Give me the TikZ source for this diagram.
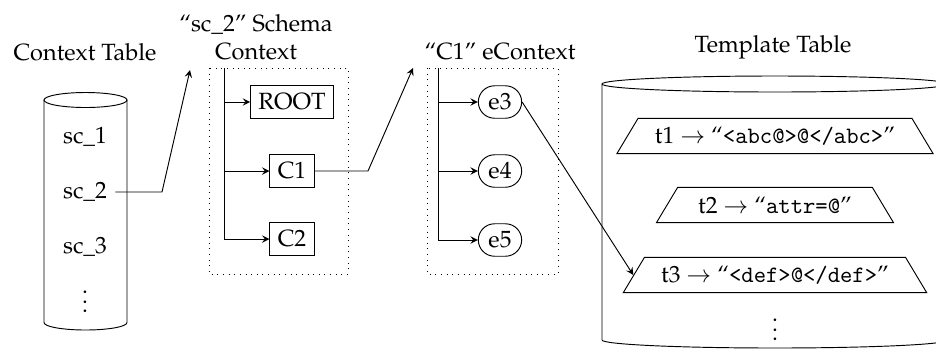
\documentclass[tikz,border=0pt]{standalone}
\usepackage{fontspec}
\newfontfamily\codefont{Latin Modern Mono}
\usepackage[T1]{fontenc}
\usepackage{mathpazo}
\usetikzlibrary{shapes.geometric,shapes.misc,arrows}

\newcommand{\code}[1]{{\codefont #1}}

\tikzset{
  conn/.style={->,>=stealth},
  elbox/.style={draw,rectangle},
  elem/.style={draw,rounded rectangle},
  tpl/.style={draw,trapezium,trapezium angle=59,minimum height=15pt,inner xsep=5pt},
  group/.style={dotted},
}

\begin{document}
\begin{tikzpicture}[x=0.4255pt,y=-0.4255pt]
  \useasboundingbox (0,0) rectangle (936,349);

  % context table cylinder
  \draw (85.5,100) ellipse[x radius=41.5,y radius=7.5];
  \draw (44,100) -- (44,322.5) arc[start angle=180,end angle=0,x radius=41.5,y radius=7.5] -- (127,100);
  \node (ctab) at (85,52) {Context Table};
  \node (sc1) at (85,137) {sc\_1};
  \node (sc2) at (85,192) {sc\_2};
  \node (sc3) at (85,247) {sc\_3};
  \node (scd) at (85,295) {$\vdots$};

  % schema context
  \node[align=center] (schema) at (256,37.5) {``sc\_2'' Schema\\Context};
  \draw[group] (209,68) rectangle (348,274);
  \coordinate (sroot) at (224,68);
  \coordinate (send) at (224,239);
  \draw (sroot) -- (send);
  \node[elbox] (root) at (292,102) {ROOT};
  \node[elbox] (c1) at (292,171) {C1};
  \node[elbox] (c2) at (292,239) {C2};
  \draw[conn] (224,102) -- (root);
  \draw[conn] (224,171) -- (c1);
  \draw[conn] (send) -- (c2);

  % element context
  \node (econtext) at (500,52) {``C1'' eContext};
  \draw[group] (427,68) rectangle (558,274);
  \coordinate (eroot) at (438,68);
  \coordinate (eend) at (438,240);
  \draw (eroot) -- (eend);
  \node[elem] (e3) at (500,102) {e3};
  \node[elem] (e4) at (500,171) {e4};
  \node[elem] (e5) at (500,240) {e5};
  \draw[conn] (438,102) -- (e3);
  \draw[conn] (438,171) -- (e4);
  \draw[conn] (eend) -- (e5);

  % template table cylinder
  \node (ttab) at (773,47) {Template Table};
  \draw (775,84) ellipse[x radius=173,y radius=8];
  \draw (602,84) -- (602,340) arc[start angle=180,end angle=0,x radius=173,y radius=8] -- (948,84);
  \node[tpl] (t1) at (775,136) {t1 $\rightarrow$ ``\code{<abc@>@</abc>}''};
  \node[tpl] (t2) at (775,205) {t2 $\rightarrow$ ``\code{attr=@}''};
  \node[tpl] (t3) at (775,275) {t3 $\rightarrow$ ``\code{<def>@</def>}''};
  \node (td) at (775,323) {$\vdots$};

  % lookups
  \coordinate (schin) at (190,70);
  \coordinate (ecin) at (413,68);
  \draw[conn] (sc2.east) -- (162,192) -- (schin);
  \draw[conn] (c1.east) -- (368,171) -- (ecin);
  \draw[conn] (e3.east) -- (t3.west);
\end{tikzpicture}
\end{document}
